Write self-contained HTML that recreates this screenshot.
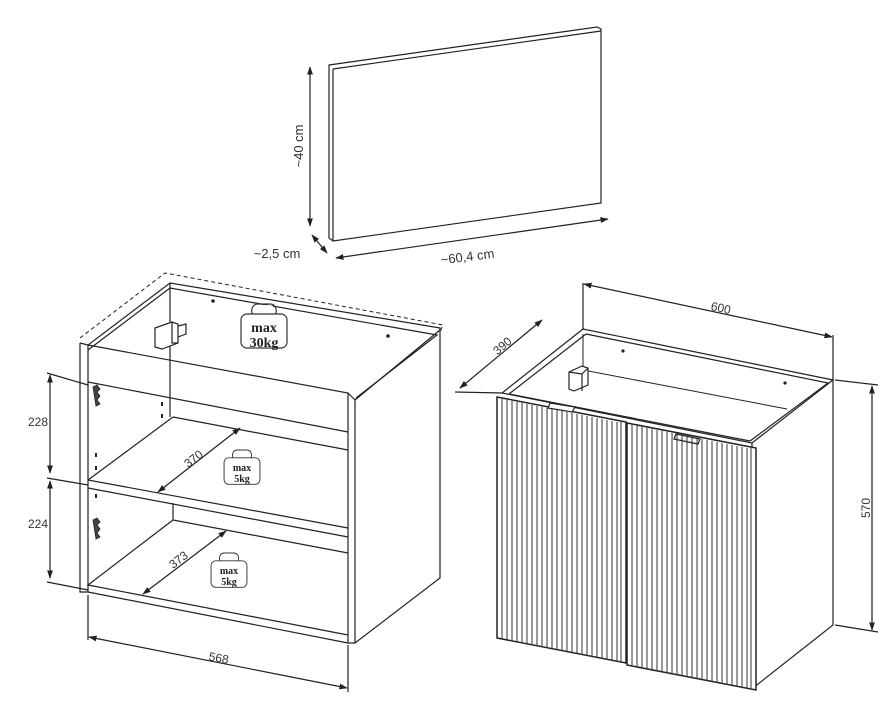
<!DOCTYPE html>
<html><head><meta charset="utf-8"><style>
html,body{margin:0;padding:0;background:#fff;}
svg{display:block;}
text{font-family:"Liberation Sans",sans-serif;fill:#333;}
.w{font-family:"Liberation Serif",serif;font-weight:bold;fill:#222;}
</style></head><body>
<svg width="896" height="703" viewBox="0 0 896 703" xmlns="http://www.w3.org/2000/svg">
<defs>
<marker id="a" viewBox="0 0 10 10" refX="9" refY="5" markerWidth="7" markerHeight="7" orient="auto-start-reverse"><path d="M0,1.5 L10,5 L0,8.5 z" fill="#222"/></marker>
<g id="wt">
<path d="M-8,12 C-14,12 -14,0 -6,0 L6,0 C14,0 14,12 8,12 L-4,12" fill="none" stroke="#333" stroke-width="1.2"/>
<rect x="-23" y="10" width="46" height="34" rx="6" fill="#fff" stroke="#333" stroke-width="1.2"/>
<path d="M-6,9 C-12,6 -10,1 -5,1 L5,1 C10,1 12,6 6,9" fill="#fff" stroke="none"/>
</g>
</defs>
<g fill="none" stroke="#222" stroke-width="1.2">
<!-- top panel -->
<path d="M329,65 L597,27 L601,29 L601,203 L333,241 L329,238 Z" fill="#fff"/>
<path d="M333,69 L601,31 M333,69 L333,241"/>
<line x1="310" y1="67" x2="310" y2="226" marker-start="url(#a)" marker-end="url(#a)"/>
<line x1="312" y1="235" x2="327" y2="253" marker-start="url(#a)" marker-end="url(#a)"/>
<line x1="336" y1="258" x2="608" y2="219" marker-start="url(#a)" marker-end="url(#a)"/>

<!-- LEFT CABINET -->
<path d="M80,338 L165,273 L443,325 L440,332" stroke-dasharray="4,3" stroke-width="1"/>
<path d="M80,343 L80,592 L88,592 L88,345 L170,283 L440,328 L440,578 L355,643 L348,643 L348,393 L88,345"/>
<path d="M80,343 L88,345 M355,400 L440,330 M355,400 L355,643 M348,393 L355,400"/>
<path d="M88,350 L170,288 L437,335 L356,398"/>
<path d="M170,283 L170,417 M88,382 L348,432 M88,385 L47,373"/>
<path d="M173,417 L348,450 M173,417 L88,480 M88,480 L348,528 M88,488 L348,537 M47,478 L88,485"/>
<path d="M173,503 L173,520 L348,553 M173,520 L88,585 L348,635 M88,592 L348,643 M47,582 L88,590"/>
<path d="M88,595 L88,640 M348,645 L348,692"/>
<line x1="50" y1="375" x2="50" y2="473" marker-start="url(#a)" marker-end="url(#a)"/>
<line x1="50" y1="481" x2="50" y2="578" marker-start="url(#a)" marker-end="url(#a)"/>
<line x1="89" y1="637" x2="347" y2="688" marker-start="url(#a)" marker-end="url(#a)"/>
<line x1="158" y1="492" x2="240" y2="428" marker-start="url(#a)" marker-end="url(#a)"/>
<line x1="143" y1="594" x2="226" y2="531" marker-start="url(#a)" marker-end="url(#a)"/>
<!-- hinge bracket -->
<path d="M155,328 L172,322 L178,324 L178,343 L162,349 L155,347 Z" fill="#fff"/>
<path d="M172,322 L172,343 L178,343 M178,326 L186,324 L186,334 L178,337"/>
<path d="M93,387 l4,-2 l3,4 l-3,3 l3,4 l-3,4 l3,4 l-4,2 z M93,520 l4,-2 l3,4 l-3,3 l3,4 l-3,4 l3,4 l-4,2 z" fill="#444" stroke-width="0.8"/>
<!-- RIGHT CABINET -->
<path d="M583,329 L502,393 L752,443 L833,380 Z" fill="#fff"/>
<path d="M586,334 L509,394 M586,334 L828,383 L750,441 M509,394 L750,441"/>
<path d="M752,443 L753,688 L833,625 L833,380"/>
<path d="M583,334 L583,370 L787,409" stroke-width="1"/>
<path d="M569,372 L582,366 L588,368 L588,385 L574,391 L569,389 Z M569,372 L582,374 L582,391 M582,374 L588,368" fill="#fff"/>
<!-- doors -->
<path d="M497,397 L626,422 L626,663 L497,638 Z" fill="#fff" stroke-width="1.5"/>
<path d="M627,423 L756,448 L756,690 L627,665 Z" fill="#fff" stroke-width="1.5"/>
<path d="M550,403 L575,407 L572,412 L548,408 Z M676,434 L700,439 L698,444 L674,439 Z" fill="#fff"/>
<line x1="583" y1="283" x2="583" y2="330"/><line x1="833" y1="335" x2="833" y2="380"/>
<line x1="584" y1="284" x2="832" y2="337" marker-start="url(#a)" marker-end="url(#a)"/>
<line x1="460" y1="388" x2="542" y2="320" marker-start="url(#a)" marker-end="url(#a)"/>
<path d="M455,392 L502,393 M835,380 L878,385 M835,625 L878,632"/>
<line x1="872" y1="386" x2="872" y2="630" marker-start="url(#a)" marker-end="url(#a)"/>
</g>
<g stroke="#333" stroke-width="1">
<path d="M502,399V639M507,400V640M512,401V641M517,402V642M522,403V643M527,404V644M532,405V645M537,406V646M542,407V647M547,408V648M552,409V649M557,410V650M562,411V651M567,412V652M572,413V653M577,414V654M582,415V655M587,416V656M592,417V657M597,418V658M602,419V659M607,420V660M612,421V661M617,422V662M621,422V662"/>
<path d="M632,425V666M637,426V667M642,427V668M647,428V669M652,429V670M657,430V671M662,431V672M667,432V673M672,433V674M677,434V675M682,435V676M687,436V677M692,437V678M697,438V679M702,439V680M707,440V681M712,441V682M717,442V683M722,443V684M727,444V685M732,445V686M737,446V687M742,447V688M747,448V689M751,448V689"/>
</g>
<g fill="#222"><circle cx="213" cy="301" r="1.8"/><circle cx="388" cy="336" r="1.8"/><circle cx="623" cy="351" r="1.6"/><circle cx="785" cy="383" r="1.6"/>
<rect x="161" y="402" width="2" height="4"/><rect x="161" y="414" width="2" height="4"/><rect x="95" y="453" width="2" height="4"/><rect x="95" y="466" width="2" height="4"/><rect x="95" y="494" width="2" height="4"/></g>
<use href="#wt" x="264" y="304"/>
<use href="#wt" x="242" y="450" transform="translate(242,450) scale(0.78) translate(-242,-450)"/>
<use href="#wt" x="229" y="553" transform="translate(229,553) scale(0.78) translate(-229,-553)"/>
<text class="w" x="264" y="332" font-size="14" text-anchor="middle">max</text>
<text class="w" x="264" y="347" font-size="14" text-anchor="middle">30kg</text>
<text class="w" x="242" y="471" font-size="10" text-anchor="middle">max</text>
<text class="w" x="242" y="482" font-size="10" text-anchor="middle">5kg</text>
<text class="w" x="229" y="574" font-size="10" text-anchor="middle">max</text>
<text class="w" x="229" y="585" font-size="10" text-anchor="middle">5kg</text>
<text x="0" y="0" font-size="13" transform="translate(303,146) rotate(-90)" text-anchor="middle">~40 cm</text>
<text x="277" y="258" font-size="13" text-anchor="middle">~2,5 cm</text>
<text x="0" y="0" font-size="13" transform="translate(468,261) rotate(-7)" text-anchor="middle">~60,4 cm</text>
<text x="38" y="426" font-size="12" text-anchor="middle">228</text>
<text x="38" y="528" font-size="12" text-anchor="middle">224</text>
<text x="0" y="0" font-size="12" transform="translate(218,662) rotate(11)" text-anchor="middle">568</text>
<text x="0" y="0" font-size="12" transform="translate(196,462) rotate(-38)" text-anchor="middle">370</text>
<text x="0" y="0" font-size="12" transform="translate(181,563) rotate(-38)" text-anchor="middle">373</text>
<text x="0" y="0" font-size="12" transform="translate(720,312) rotate(12)" text-anchor="middle">600</text>
<text x="0" y="0" font-size="12" transform="translate(505,349) rotate(-40)" text-anchor="middle">390</text>
<text x="0" y="0" font-size="12" transform="translate(870,508) rotate(-90)" text-anchor="middle">570</text>
</svg>
</body></html>
